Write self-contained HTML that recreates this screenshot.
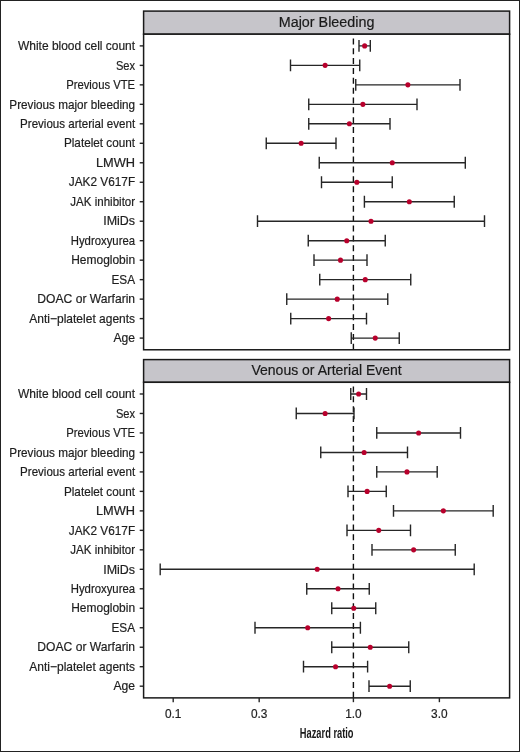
<!DOCTYPE html>
<html><head><meta charset="utf-8"><style>
html,body{margin:0;padding:0;background:#fff;}
body{width:520px;height:752px;overflow:hidden;}
svg{display:block;will-change:transform;font-family:"Liberation Sans",sans-serif;}
</style></head><body>
<svg width="520" height="752" viewBox="0 0 520 752">
<rect width="520" height="752" fill="#fff"/>
<rect x="143.6" y="11.1" width="366.0" height="23.1" fill="#c6c5ca" stroke="#1a1a1a" stroke-width="1.5"/>
<text x="326.60" y="26.90" font-size="14.8" text-anchor="middle" fill="#1a1a1a" transform="matrix(0.97 0 0 1 9.798 0)" stroke="#1a1a1a" stroke-width="0.2">Major Bleeding</text>
<rect x="143.6" y="34.2" width="366.0" height="315.57599999999996" fill="#fff" stroke="none"/>
<line x1="353.4" y1="34.2" x2="353.4" y2="349.77599999999995" stroke="#111" stroke-width="1.4" stroke-dasharray="6.0 3.85" stroke-dashoffset="5.65"/>
<path d="M359 45.89H370.3M359 39.99V51.79M370.3 39.99V51.79" stroke="#262626" stroke-width="1.4" fill="none"/>
<circle cx="364.65" cy="45.89" r="2.55" fill="#b8002c"/>
<line x1="139.7" y1="45.89" x2="143.6" y2="45.89" stroke="#262626" stroke-width="1.4"/>
<text x="135.10" y="50.09" font-size="12.5" text-anchor="end" fill="#1e1e1e" transform="matrix(0.958 0 0 1 5.674 0)" stroke="#1e1e1e" stroke-width="0.2">White blood cell count</text>
<path d="M290.5 65.37H359.75M290.5 59.47V71.27M359.75 59.47V71.27" stroke="#262626" stroke-width="1.4" fill="none"/>
<circle cx="325.125" cy="65.37" r="2.55" fill="#b8002c"/>
<line x1="139.7" y1="65.37" x2="143.6" y2="65.37" stroke="#262626" stroke-width="1.4"/>
<text x="135.10" y="69.57" font-size="12.5" text-anchor="end" fill="#1e1e1e" transform="matrix(0.89 0 0 1 14.861 0)" stroke="#1e1e1e" stroke-width="0.2">Sex</text>
<path d="M355.75 84.85H460M355.75 78.95V90.75M460 78.95V90.75" stroke="#262626" stroke-width="1.4" fill="none"/>
<circle cx="407.875" cy="84.85" r="2.55" fill="#b8002c"/>
<line x1="139.7" y1="84.85" x2="143.6" y2="84.85" stroke="#262626" stroke-width="1.4"/>
<text x="135.10" y="89.05" font-size="12.5" text-anchor="end" fill="#1e1e1e" transform="matrix(0.903 0 0 1 13.105 0)" stroke="#1e1e1e" stroke-width="0.2">Previous VTE</text>
<path d="M308.75 104.33H417M308.75 98.43V110.23M417 98.43V110.23" stroke="#262626" stroke-width="1.4" fill="none"/>
<circle cx="362.875" cy="104.33" r="2.55" fill="#b8002c"/>
<line x1="139.7" y1="104.33" x2="143.6" y2="104.33" stroke="#262626" stroke-width="1.4"/>
<text x="135.10" y="108.53" font-size="12.5" text-anchor="end" fill="#1e1e1e" transform="matrix(0.939 0 0 1 8.241 0)" stroke="#1e1e1e" stroke-width="0.2">Previous major bleeding</text>
<path d="M308.75 123.81H390M308.75 117.91V129.71M390 117.91V129.71" stroke="#262626" stroke-width="1.4" fill="none"/>
<circle cx="349.375" cy="123.81" r="2.55" fill="#b8002c"/>
<line x1="139.7" y1="123.81" x2="143.6" y2="123.81" stroke="#262626" stroke-width="1.4"/>
<text x="135.10" y="128.01" font-size="12.5" text-anchor="end" fill="#1e1e1e" transform="matrix(0.926 0 0 1 9.997 0)" stroke="#1e1e1e" stroke-width="0.2">Previous arterial event</text>
<path d="M266.25 143.29H336M266.25 137.39V149.19M336 137.39V149.19" stroke="#262626" stroke-width="1.4" fill="none"/>
<circle cx="301.125" cy="143.29" r="2.55" fill="#b8002c"/>
<line x1="139.7" y1="143.29" x2="143.6" y2="143.29" stroke="#262626" stroke-width="1.4"/>
<text x="135.10" y="147.49" font-size="12.5" text-anchor="end" fill="#1e1e1e" transform="matrix(0.94 0 0 1 8.106 0)" stroke="#1e1e1e" stroke-width="0.2">Platelet count</text>
<path d="M319.25 162.77H465.3M319.25 156.87V168.67M465.3 156.87V168.67" stroke="#262626" stroke-width="1.4" fill="none"/>
<circle cx="392.275" cy="162.77" r="2.55" fill="#b8002c"/>
<line x1="139.7" y1="162.77" x2="143.6" y2="162.77" stroke="#262626" stroke-width="1.4"/>
<text x="135.10" y="166.97" font-size="12.5" text-anchor="end" fill="#1e1e1e" transform="matrix(1.025 0 0 1 -3.377 0)" stroke="#1e1e1e" stroke-width="0.2">LMWH</text>
<path d="M321.5 182.25H392.25M321.5 176.35V188.15M392.25 176.35V188.15" stroke="#262626" stroke-width="1.4" fill="none"/>
<circle cx="356.875" cy="182.25" r="2.55" fill="#b8002c"/>
<line x1="139.7" y1="182.25" x2="143.6" y2="182.25" stroke="#262626" stroke-width="1.4"/>
<text x="135.10" y="186.45" font-size="12.5" text-anchor="end" fill="#1e1e1e" transform="matrix(0.946 0 0 1 7.295 0)" stroke="#1e1e1e" stroke-width="0.2">JAK2 V617F</text>
<path d="M364.4 201.73H454.25M364.4 195.83V207.63M454.25 195.83V207.63" stroke="#262626" stroke-width="1.4" fill="none"/>
<circle cx="409.325" cy="201.73" r="2.55" fill="#b8002c"/>
<line x1="139.7" y1="201.73" x2="143.6" y2="201.73" stroke="#262626" stroke-width="1.4"/>
<text x="135.10" y="205.93" font-size="12.5" text-anchor="end" fill="#1e1e1e" transform="matrix(0.924 0 0 1 10.268 0)" stroke="#1e1e1e" stroke-width="0.2">JAK inhibitor</text>
<path d="M257.5 221.21H484.5M257.5 215.31V227.11M484.5 215.31V227.11" stroke="#262626" stroke-width="1.4" fill="none"/>
<circle cx="371.0" cy="221.21" r="2.55" fill="#b8002c"/>
<line x1="139.7" y1="221.21" x2="143.6" y2="221.21" stroke="#262626" stroke-width="1.4"/>
<text x="135.10" y="225.41" font-size="12.5" text-anchor="end" fill="#1e1e1e" transform="matrix(0.997 0 0 1 0.405 0)" stroke="#1e1e1e" stroke-width="0.2">IMiDs</text>
<path d="M308.25 240.69H385.25M308.25 234.79V246.59M385.25 234.79V246.59" stroke="#262626" stroke-width="1.4" fill="none"/>
<circle cx="346.75" cy="240.69" r="2.55" fill="#b8002c"/>
<line x1="139.7" y1="240.69" x2="143.6" y2="240.69" stroke="#262626" stroke-width="1.4"/>
<text x="135.10" y="244.89" font-size="12.5" text-anchor="end" fill="#1e1e1e" transform="matrix(0.909 0 0 1 12.294 0)" stroke="#1e1e1e" stroke-width="0.2">Hydroxyurea</text>
<path d="M314 260.17H367M314 254.27V266.07M367 254.27V266.07" stroke="#262626" stroke-width="1.4" fill="none"/>
<circle cx="340.5" cy="260.17" r="2.55" fill="#b8002c"/>
<line x1="139.7" y1="260.17" x2="143.6" y2="260.17" stroke="#262626" stroke-width="1.4"/>
<text x="135.10" y="264.37" font-size="12.5" text-anchor="end" fill="#1e1e1e" transform="matrix(0.958 0 0 1 5.674 0)" stroke="#1e1e1e" stroke-width="0.2">Hemoglobin</text>
<path d="M319.75 279.65H410.75M319.75 273.75V285.55M410.75 273.75V285.55" stroke="#262626" stroke-width="1.4" fill="none"/>
<circle cx="365.25" cy="279.65" r="2.55" fill="#b8002c"/>
<line x1="139.7" y1="279.65" x2="143.6" y2="279.65" stroke="#262626" stroke-width="1.4"/>
<text x="135.10" y="283.85" font-size="12.5" text-anchor="end" fill="#1e1e1e" transform="matrix(0.946 0 0 1 7.295 0)" stroke="#1e1e1e" stroke-width="0.2">ESA</text>
<path d="M286.75 299.13H387.75M286.75 293.23V305.03M387.75 293.23V305.03" stroke="#262626" stroke-width="1.4" fill="none"/>
<circle cx="337.25" cy="299.13" r="2.55" fill="#b8002c"/>
<line x1="139.7" y1="299.13" x2="143.6" y2="299.13" stroke="#262626" stroke-width="1.4"/>
<text x="135.10" y="303.33" font-size="12.5" text-anchor="end" fill="#1e1e1e" transform="matrix(0.969 0 0 1 4.188 0)" stroke="#1e1e1e" stroke-width="0.2">DOAC or Warfarin</text>
<path d="M290.75 318.61H366.5M290.75 312.71V324.51M366.5 312.71V324.51" stroke="#262626" stroke-width="1.4" fill="none"/>
<circle cx="328.625" cy="318.61" r="2.55" fill="#b8002c"/>
<line x1="139.7" y1="318.61" x2="143.6" y2="318.61" stroke="#262626" stroke-width="1.4"/>
<text x="135.10" y="322.81" font-size="12.5" text-anchor="end" fill="#1e1e1e" transform="matrix(0.961 0 0 1 5.269 0)" stroke="#1e1e1e" stroke-width="0.2">Anti−platelet agents</text>
<path d="M351.25 338.09H399.25M351.25 332.19V343.99M399.25 332.19V343.99" stroke="#262626" stroke-width="1.4" fill="none"/>
<circle cx="375.25" cy="338.09" r="2.55" fill="#b8002c"/>
<line x1="139.7" y1="338.09" x2="143.6" y2="338.09" stroke="#262626" stroke-width="1.4"/>
<text x="135.10" y="342.29" font-size="12.5" text-anchor="end" fill="#1e1e1e" transform="matrix(0.971 0 0 1 3.918 0)" stroke="#1e1e1e" stroke-width="0.2">Age</text>
<rect x="143.6" y="34.2" width="366.0" height="315.57599999999996" fill="none" stroke="#1a1a1a" stroke-width="1.5"/>
<rect x="143.6" y="359.6" width="366.0" height="22.69999999999999" fill="#c6c5ca" stroke="#1a1a1a" stroke-width="1.5"/>
<text x="326.60" y="375.40" font-size="14.8" text-anchor="middle" fill="#1a1a1a" transform="matrix(0.947 0 0 1 17.310 0)" stroke="#1a1a1a" stroke-width="0.2">Venous or Arterial Event</text>
<rect x="143.6" y="382.3" width="366.0" height="315.57599999999996" fill="#fff" stroke="none"/>
<line x1="353.4" y1="382.3" x2="353.4" y2="697.876" stroke="#111" stroke-width="1.4" stroke-dasharray="6.0 3.85" stroke-dashoffset="5.65"/>
<path d="M350.75 393.99H366.5M350.75 388.09V399.89M366.5 388.09V399.89" stroke="#262626" stroke-width="1.4" fill="none"/>
<circle cx="358.625" cy="393.99" r="2.55" fill="#b8002c"/>
<line x1="139.7" y1="393.99" x2="143.6" y2="393.99" stroke="#262626" stroke-width="1.4"/>
<text x="135.10" y="398.19" font-size="12.5" text-anchor="end" fill="#1e1e1e" transform="matrix(0.958 0 0 1 5.674 0)" stroke="#1e1e1e" stroke-width="0.2">White blood cell count</text>
<path d="M296.25 413.47H354M296.25 407.57V419.37M354 407.57V419.37" stroke="#262626" stroke-width="1.4" fill="none"/>
<circle cx="325.125" cy="413.47" r="2.55" fill="#b8002c"/>
<line x1="139.7" y1="413.47" x2="143.6" y2="413.47" stroke="#262626" stroke-width="1.4"/>
<text x="135.10" y="417.67" font-size="12.5" text-anchor="end" fill="#1e1e1e" transform="matrix(0.89 0 0 1 14.861 0)" stroke="#1e1e1e" stroke-width="0.2">Sex</text>
<path d="M376.75 432.95H460.5M376.75 427.05V438.85M460.5 427.05V438.85" stroke="#262626" stroke-width="1.4" fill="none"/>
<circle cx="418.625" cy="432.95" r="2.55" fill="#b8002c"/>
<line x1="139.7" y1="432.95" x2="143.6" y2="432.95" stroke="#262626" stroke-width="1.4"/>
<text x="135.10" y="437.15" font-size="12.5" text-anchor="end" fill="#1e1e1e" transform="matrix(0.903 0 0 1 13.105 0)" stroke="#1e1e1e" stroke-width="0.2">Previous VTE</text>
<path d="M320.75 452.43H407.5M320.75 446.53V458.33M407.5 446.53V458.33" stroke="#262626" stroke-width="1.4" fill="none"/>
<circle cx="364.125" cy="452.43" r="2.55" fill="#b8002c"/>
<line x1="139.7" y1="452.43" x2="143.6" y2="452.43" stroke="#262626" stroke-width="1.4"/>
<text x="135.10" y="456.63" font-size="12.5" text-anchor="end" fill="#1e1e1e" transform="matrix(0.939 0 0 1 8.241 0)" stroke="#1e1e1e" stroke-width="0.2">Previous major bleeding</text>
<path d="M376.75 471.91H437.2M376.75 466.01V477.81M437.2 466.01V477.81" stroke="#262626" stroke-width="1.4" fill="none"/>
<circle cx="406.975" cy="471.91" r="2.55" fill="#b8002c"/>
<line x1="139.7" y1="471.91" x2="143.6" y2="471.91" stroke="#262626" stroke-width="1.4"/>
<text x="135.10" y="476.11" font-size="12.5" text-anchor="end" fill="#1e1e1e" transform="matrix(0.926 0 0 1 9.997 0)" stroke="#1e1e1e" stroke-width="0.2">Previous arterial event</text>
<path d="M348 491.39H386.25M348 485.49V497.29M386.25 485.49V497.29" stroke="#262626" stroke-width="1.4" fill="none"/>
<circle cx="367.125" cy="491.39" r="2.55" fill="#b8002c"/>
<line x1="139.7" y1="491.39" x2="143.6" y2="491.39" stroke="#262626" stroke-width="1.4"/>
<text x="135.10" y="495.59" font-size="12.5" text-anchor="end" fill="#1e1e1e" transform="matrix(0.94 0 0 1 8.106 0)" stroke="#1e1e1e" stroke-width="0.2">Platelet count</text>
<path d="M393.5 510.87H493.2M393.5 504.97V516.77M493.2 504.97V516.77" stroke="#262626" stroke-width="1.4" fill="none"/>
<circle cx="443.35" cy="510.87" r="2.55" fill="#b8002c"/>
<line x1="139.7" y1="510.87" x2="143.6" y2="510.87" stroke="#262626" stroke-width="1.4"/>
<text x="135.10" y="515.07" font-size="12.5" text-anchor="end" fill="#1e1e1e" transform="matrix(1.025 0 0 1 -3.377 0)" stroke="#1e1e1e" stroke-width="0.2">LMWH</text>
<path d="M347 530.35H410.5M347 524.45V536.25M410.5 524.45V536.25" stroke="#262626" stroke-width="1.4" fill="none"/>
<circle cx="378.75" cy="530.35" r="2.55" fill="#b8002c"/>
<line x1="139.7" y1="530.35" x2="143.6" y2="530.35" stroke="#262626" stroke-width="1.4"/>
<text x="135.10" y="534.55" font-size="12.5" text-anchor="end" fill="#1e1e1e" transform="matrix(0.946 0 0 1 7.295 0)" stroke="#1e1e1e" stroke-width="0.2">JAK2 V617F</text>
<path d="M372 549.83H455.25M372 543.93V555.73M455.25 543.93V555.73" stroke="#262626" stroke-width="1.4" fill="none"/>
<circle cx="413.625" cy="549.83" r="2.55" fill="#b8002c"/>
<line x1="139.7" y1="549.83" x2="143.6" y2="549.83" stroke="#262626" stroke-width="1.4"/>
<text x="135.10" y="554.03" font-size="12.5" text-anchor="end" fill="#1e1e1e" transform="matrix(0.924 0 0 1 10.268 0)" stroke="#1e1e1e" stroke-width="0.2">JAK inhibitor</text>
<path d="M160.2 569.31H474.2M160.2 563.41V575.21M474.2 563.41V575.21" stroke="#262626" stroke-width="1.4" fill="none"/>
<circle cx="317.2" cy="569.31" r="2.55" fill="#b8002c"/>
<line x1="139.7" y1="569.31" x2="143.6" y2="569.31" stroke="#262626" stroke-width="1.4"/>
<text x="135.10" y="573.51" font-size="12.5" text-anchor="end" fill="#1e1e1e" transform="matrix(0.997 0 0 1 0.405 0)" stroke="#1e1e1e" stroke-width="0.2">IMiDs</text>
<path d="M306.75 588.79H369.25M306.75 582.89V594.69M369.25 582.89V594.69" stroke="#262626" stroke-width="1.4" fill="none"/>
<circle cx="338.0" cy="588.79" r="2.55" fill="#b8002c"/>
<line x1="139.7" y1="588.79" x2="143.6" y2="588.79" stroke="#262626" stroke-width="1.4"/>
<text x="135.10" y="592.99" font-size="12.5" text-anchor="end" fill="#1e1e1e" transform="matrix(0.909 0 0 1 12.294 0)" stroke="#1e1e1e" stroke-width="0.2">Hydroxyurea</text>
<path d="M331.75 608.27H375.75M331.75 602.37V614.17M375.75 602.37V614.17" stroke="#262626" stroke-width="1.4" fill="none"/>
<circle cx="353.75" cy="608.27" r="2.55" fill="#b8002c"/>
<line x1="139.7" y1="608.27" x2="143.6" y2="608.27" stroke="#262626" stroke-width="1.4"/>
<text x="135.10" y="612.47" font-size="12.5" text-anchor="end" fill="#1e1e1e" transform="matrix(0.958 0 0 1 5.674 0)" stroke="#1e1e1e" stroke-width="0.2">Hemoglobin</text>
<path d="M255 627.75H360.4M255 621.85V633.65M360.4 621.85V633.65" stroke="#262626" stroke-width="1.4" fill="none"/>
<circle cx="307.7" cy="627.75" r="2.55" fill="#b8002c"/>
<line x1="139.7" y1="627.75" x2="143.6" y2="627.75" stroke="#262626" stroke-width="1.4"/>
<text x="135.10" y="631.95" font-size="12.5" text-anchor="end" fill="#1e1e1e" transform="matrix(0.946 0 0 1 7.295 0)" stroke="#1e1e1e" stroke-width="0.2">ESA</text>
<path d="M331.75 647.23H408.75M331.75 641.33V653.13M408.75 641.33V653.13" stroke="#262626" stroke-width="1.4" fill="none"/>
<circle cx="370.25" cy="647.23" r="2.55" fill="#b8002c"/>
<line x1="139.7" y1="647.23" x2="143.6" y2="647.23" stroke="#262626" stroke-width="1.4"/>
<text x="135.10" y="651.43" font-size="12.5" text-anchor="end" fill="#1e1e1e" transform="matrix(0.969 0 0 1 4.188 0)" stroke="#1e1e1e" stroke-width="0.2">DOAC or Warfarin</text>
<path d="M303.5 666.71H367.6M303.5 660.81V672.61M367.6 660.81V672.61" stroke="#262626" stroke-width="1.4" fill="none"/>
<circle cx="335.55" cy="666.71" r="2.55" fill="#b8002c"/>
<line x1="139.7" y1="666.71" x2="143.6" y2="666.71" stroke="#262626" stroke-width="1.4"/>
<text x="135.10" y="670.91" font-size="12.5" text-anchor="end" fill="#1e1e1e" transform="matrix(0.961 0 0 1 5.269 0)" stroke="#1e1e1e" stroke-width="0.2">Anti−platelet agents</text>
<path d="M369 686.19H410.25M369 680.29V692.09M410.25 680.29V692.09" stroke="#262626" stroke-width="1.4" fill="none"/>
<circle cx="389.625" cy="686.19" r="2.55" fill="#b8002c"/>
<line x1="139.7" y1="686.19" x2="143.6" y2="686.19" stroke="#262626" stroke-width="1.4"/>
<text x="135.10" y="690.39" font-size="12.5" text-anchor="end" fill="#1e1e1e" transform="matrix(0.971 0 0 1 3.918 0)" stroke="#1e1e1e" stroke-width="0.2">Age</text>
<rect x="143.6" y="382.3" width="366.0" height="315.57599999999996" fill="none" stroke="#1a1a1a" stroke-width="1.5"/>
<line x1="173.20" y1="697.876" x2="173.20" y2="702.1759999999999" stroke="#262626" stroke-width="1.4"/>
<text x="173.20" y="718.10" font-size="12.5" text-anchor="middle" fill="#1e1e1e" transform="matrix(0.95 0 0 1 8.660 0)" stroke="#1e1e1e" stroke-width="0.2">0.1</text>
<line x1="259.18" y1="697.876" x2="259.18" y2="702.1759999999999" stroke="#262626" stroke-width="1.4"/>
<text x="259.18" y="718.10" font-size="12.5" text-anchor="middle" fill="#1e1e1e" transform="matrix(0.95 0 0 1 12.959 0)" stroke="#1e1e1e" stroke-width="0.2">0.3</text>
<line x1="353.40" y1="697.876" x2="353.40" y2="702.1759999999999" stroke="#262626" stroke-width="1.4"/>
<text x="353.40" y="718.10" font-size="12.5" text-anchor="middle" fill="#1e1e1e" transform="matrix(0.95 0 0 1 17.670 0)" stroke="#1e1e1e" stroke-width="0.2">1.0</text>
<line x1="439.38" y1="697.876" x2="439.38" y2="702.1759999999999" stroke="#262626" stroke-width="1.4"/>
<text x="439.38" y="718.10" font-size="12.5" text-anchor="middle" fill="#1e1e1e" transform="matrix(0.95 0 0 1 21.969 0)" stroke="#1e1e1e" stroke-width="0.2">3.0</text>
<text x="326.7" y="737.7" font-size="15" font-weight="bold" text-anchor="middle" fill="#1a1a1a" transform="translate(326.7 0) scale(0.62 1) translate(-326.7 0)">Hazard ratio</text>
<rect x="0.5" y="0.5" width="519" height="751" fill="none" stroke="#222" stroke-width="1"/>
</svg>
</body></html>
